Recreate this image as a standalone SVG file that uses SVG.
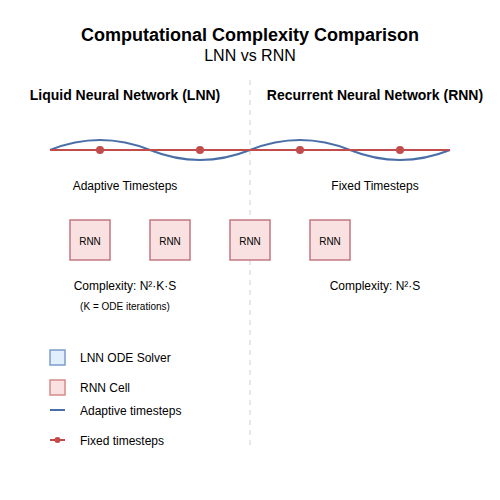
<svg xmlns="http://www.w3.org/2000/svg" width="500" height="500" viewBox="0 0 500 500">
<style>
text{font-family:"Liberation Sans",Arial,sans-serif;fill:#000}
.title{font-size:18px;font-weight:bold}
.sub{font-size:16px}
.hdr{font-size:14px;font-weight:bold}
.lbl{font-size:12px}
.small{font-size:10px}
.cell rect{fill:#f9e1e1;stroke:#c47780;stroke-width:1.5}
.cell text{font-size:10px}
.wave{fill:none;stroke:#4a6ea8;stroke-width:2}
.fixed{stroke:#c24c4c;stroke-width:2}
.dot{fill:#c24c4c}
</style>
<rect width="500" height="500" fill="#fff"/>
<text class="title" x="250" y="41" text-anchor="middle">Computational Complexity Comparison</text>
<text class="sub" x="250" y="61" text-anchor="middle">LNN vs RNN</text>
<line x1="250" y1="80" x2="250" y2="450" stroke="#d0d0d0" stroke-width="1" stroke-dasharray="5,5"/>
<text class="hdr" x="125" y="100" text-anchor="middle">Liquid Neural Network (LNN)</text>
<text class="hdr" x="375" y="100" text-anchor="middle">Recurrent Neural Network (RNN)</text>
<g id="connectors">
<path class="wave" d="M50,150 Q100,130 150,150 Q200,170 250,150 Q300,130 350,150 Q400,170 450,150"/>
<line class="fixed" x1="50" y1="150" x2="450" y2="150"/>
<circle class="dot" cx="100" cy="150" r="4"/>
<circle class="dot" cx="200" cy="150" r="4"/>
<circle class="dot" cx="300" cy="150" r="4"/>
<circle class="dot" cx="400" cy="150" r="4"/>
</g>
<text class="lbl" x="125" y="190" text-anchor="middle">Adaptive Timesteps</text>
<text class="lbl" x="375" y="190" text-anchor="middle">Fixed Timesteps</text>
<g id="rnn1" class="cell"><rect x="70" y="220" width="40" height="40"/><text x="90" y="245" text-anchor="middle">RNN</text></g>
<g id="rnn2" class="cell"><rect x="150" y="220" width="40" height="40"/><text x="170" y="245" text-anchor="middle">RNN</text></g>
<g id="rnn3" class="cell"><rect x="230" y="220" width="40" height="40"/><text x="250" y="245" text-anchor="middle">RNN</text></g>
<g id="rnn4" class="cell"><rect x="310" y="220" width="40" height="40"/><text x="330" y="245" text-anchor="middle">RNN</text></g>
<text class="lbl" x="125" y="290" text-anchor="middle">Complexity: N²·K·S</text>
<text class="small" x="125" y="310" text-anchor="middle">(K = ODE iterations)</text>
<text class="lbl" x="375" y="290" text-anchor="middle">Complexity: N²·S</text>
<g id="legend">
<rect x="50" y="350" width="15" height="15" fill="#e1effc" stroke="#7b9ccb" stroke-width="1.5"/>
<text class="lbl" x="80" y="362">LNN ODE Solver</text>
<rect x="50" y="380" width="15" height="15" fill="#f9e1e1" stroke="#d88a8a" stroke-width="1.5"/>
<text class="lbl" x="80" y="392">RNN Cell</text>
<line x1="50" y1="410" x2="65" y2="410" stroke="#4a6ea8" stroke-width="2"/>
<text class="lbl" x="80" y="415">Adaptive timesteps</text>
<line x1="50" y1="440" x2="65" y2="440" stroke="#c24c4c" stroke-width="2"/>
<circle cx="57.5" cy="440" r="3" fill="#c24c4c"/>
<text class="lbl" x="80" y="445">Fixed timesteps</text>
</g>
</svg>
